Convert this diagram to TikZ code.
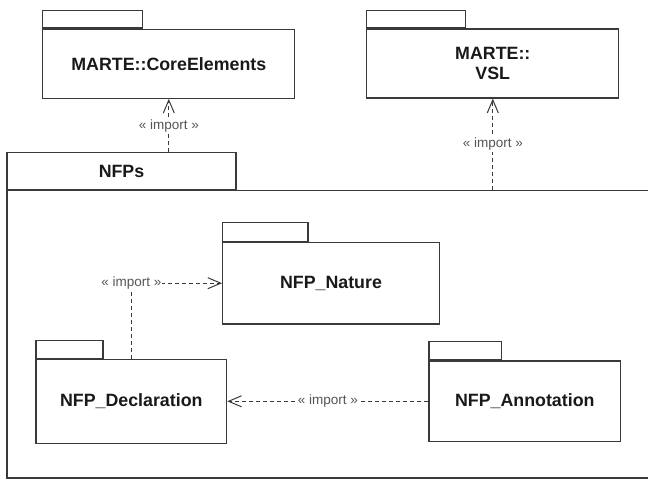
\documentclass[tikz,border=0pt]{standalone}
\usepackage{fontspec}
\setmainfont{Liberation Sans}
\usepackage{xcolor}
\usepackage{tikz}
\usetikzlibrary{arrows.meta, positioning, calc}

\definecolor{pkgline}{HTML}{3A3A3A}
\definecolor{stereogray}{HTML}{555555}

\begin{document}
\begin{tikzpicture}[
                x=1pt, y=-1pt,
                pkg/.style={draw=pkgline, line width=1.2pt, inner sep=0pt, align=center,
                    font=\fontsize{17.8}{20}\selectfont\bfseries, text=black!90},
                pkgtab/.style={draw=pkgline, line width=1.2pt, inner sep=0pt, anchor=south west},
                import/.style={draw=pkgline, line width=0.9pt, dash pattern=on 4pt off 3pt,
                    -{Straight Barb[length=13pt, width=11pt, line width=1pt]}},
                stereo/.style={fill=white, inner sep=1pt, text=stereogray,
                    font=\fontsize{13.5}{15}\selectfont}
            ]
                \useasboundingbox (0,0) rectangle (648,479);

                % Nodes
                \node[pkg, minimum width=252pt, minimum height=69pt] (core) at (168.8,63.7) {MARTE::CoreElements};
                \node[pkgtab, minimum width=100pt, minimum height=17.5pt] (coretab) at (core.north west) {};

                \node[pkg, minimum width=252pt, minimum height=69pt] (vsl) at (492.8,63.5) {MARTE::\\VSL};
                \node[pkgtab, minimum width=99pt, minimum height=17.5pt] (vsltab) at (vsl.north west) {};

                \node[draw=pkgline, line width=1.2pt, minimum width=653pt, minimum height=287.3pt] (nfps) at (333.5,334.4) {};
                \node[pkgtab, pkg, anchor=south west, minimum width=229pt, minimum height=36.7pt] (nfpstab) at (nfps.north west) {NFPs};

                \node[pkg, minimum width=216.6pt, minimum height=81.7pt] (nature) at (331,283.2) {NFP\_Nature};
                \node[pkgtab, minimum width=85.3pt, minimum height=19pt] (naturetab) at (nature.north west) {};

                \node[pkg, minimum width=190.7pt, minimum height=84pt] (decl) at (131.3,401.3) {NFP\_Declaration};
                \node[pkgtab, minimum width=67pt, minimum height=18pt] (decltab) at (decl.north west) {};

                \node[pkg, minimum width=191.7pt, minimum height=80.7pt] (annot) at (524.8,401.3) {NFP\_Annotation};
                \node[pkgtab, minimum width=72.7pt, minimum height=18.3pt] (annottab) at (annot.north west) {};

                % Edges
                \draw[import] (core.south |- nfpstab.north) -- node[stereo] {« import »} (core.south);
                \draw[import] (vsl.south |- nfps.north) -- node[stereo] {« import »} (vsl.south);
                \draw[import] (decl.north) |- node[stereo, pos=0.5] {« import »} (nature.west);
                \draw[import] (annot.west) -- node[stereo] {« import »} (decl.east);
            \end{tikzpicture}
\end{document}
